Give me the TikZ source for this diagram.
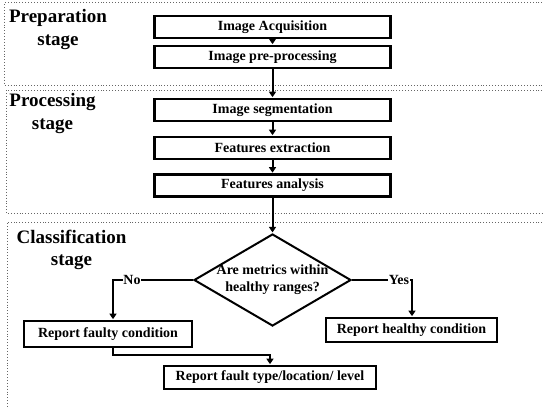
\documentclass[tikz,border=0pt]{standalone}
\usepackage{fontspec}
\setmainfont{Liberation Serif}
\usetikzlibrary{arrows.meta,shapes.geometric}
\begin{document}
\begin{tikzpicture}[x=1pt,y=-1pt,
  box/.style={draw, line width=2.5pt, minimum height=22pt, inner sep=0pt, font=\fontsize{14}{16}\selectfont\bfseries},
  mainbox/.style={box, minimum width=236pt},
  frame/.style={draw=black!60, dotted, line width=0.9pt},
  conn/.style={line width=2pt, -{Triangle[length=5.5pt,width=7pt]}, shorten >=0.6pt},
  stagelbl/.style={font=\fontsize{19}{22.5}\selectfont\bfseries, align=center, inner sep=0pt, anchor=north},
  yn/.style={font=\fontsize{14}{16}\selectfont\bfseries, fill=white, inner sep=0.5pt},
]
\useasboundingbox (0,0) rectangle (543,408);
% stage frames
\draw[frame] (548,2.5) -- (4.5,2.5) -- (4.5,85) -- (548,85);
\draw[frame] (548,90) -- (6,90) -- (6,213) -- (548,213);
\draw[frame] (548,222) -- (7,222) -- (7,412);
% stage labels
\node[stagelbl] (lprep) at (58,9.5) {Preparation\\stage};
\node[stagelbl] (lproc) at (52.5,93.5) {Processing\\stage};
\node[stagelbl] (lclass) at (71.5,229.5) {Classification\\stage};
% main column
\node[mainbox] (acq) at (272.5,27) {Image Acquisition};
\node[mainbox] (pre) at (272.5,57) {Image pre-processing};
\node[mainbox] (seg) at (272.5,110) {Image segmentation};
\node[mainbox] (fex) at (272.5,148) {Features extraction};
\node[mainbox] (fan) at (272.5,185.5) {Features analysis};
% decision
\node[diamond, draw, line width=2pt, minimum width=157pt, minimum height=92pt, inner sep=0pt] (dec) at (272.5,280) {};
\node[font=\fontsize{14}{17}\selectfont\bfseries, align=center, inner sep=0pt] (dectext) at (dec.center) {Are metrics within\\healthy ranges?};
% outcomes
\node[box, minimum width=168pt, minimum height=26pt] (faulty) at (108,334) {Report faulty condition};
\node[box, minimum width=171pt, minimum height=24pt] (healthy) at (411.5,330) {Report healthy condition};
\node[box, minimum width=212pt, minimum height=23pt] (ftype) at (270,377.5) {Report fault type/location/ level};
% connectors
\draw[conn] (acq) -- (pre);
\draw[conn] (pre) -- (seg);
\draw[conn] (seg) -- (fex);
\draw[conn] (fex) -- (fan);
\draw[conn] (fan) -- (dec.north);
\coordinate (nc) at (113,280);
\coordinate (yc) at (412,280);
\draw[conn] (dec.west) -- (nc) -- (nc |- faulty.north);
\draw[conn] (dec.east) -- (yc) -- (yc |- healthy.north);
\draw[conn] (nc |- faulty.south) -- ++(0,7) -| (ftype.north);
\node[yn] (no) at (132,280) {No};
\node[yn] (yes) at (399,280) {Yes};
\end{tikzpicture}
\end{document}
